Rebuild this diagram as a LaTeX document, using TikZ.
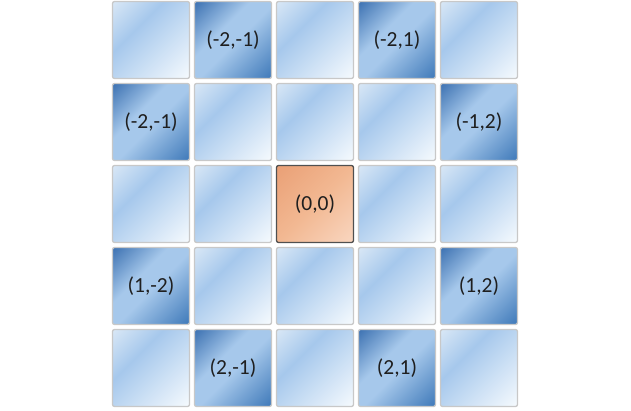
\documentclass[tikz,border=0pt]{standalone}
\usepackage{fontspec}
\setmainfont{Carlito}
\definecolor{lightA}{RGB}{218,232,246}
\definecolor{lightB}{RGB}{166,200,236}
\definecolor{lightC}{RGB}{247,251,254}
\definecolor{darkA}{RGB}{50,105,172}
\definecolor{darkB}{RGB}{166,200,235}
\definecolor{darkC}{RGB}{48,110,178}
\definecolor{orangeA}{RGB}{234,160,118}
\definecolor{orangeB}{RGB}{242,184,146}
\definecolor{orangeC}{RGB}{249,214,192}
\definecolor{tileedge}{RGB}{200,200,200}
\definecolor{originedge}{RGB}{80,80,80}
\pgfdeclarehorizontalshading{lightshade}{100bp}{color(0bp)=(lightA); color(14bp)=(lightA); color(38bp)=(lightB); color(86bp)=(lightC); color(100bp)=(lightC)}
\pgfdeclarehorizontalshading{darkshade}{100bp}{color(0bp)=(darkA); color(12bp)=(darkA); color(40bp)=(darkB); color(52bp)=(darkB); color(90bp)=(darkC); color(100bp)=(darkC)}
\pgfdeclarehorizontalshading{orangeshade}{100bp}{color(0bp)=(orangeA); color(15bp)=(orangeA); color(50bp)=(orangeB); color(85bp)=(orangeC); color(100bp)=(orangeC)}
\newcommand{\tilesize}{77pt}
\newcommand{\tilepitch}{82pt}
\tikzset{
    tile/.style={draw=tileedge, line width=1.3pt, rounded corners=2pt, minimum size=\tilesize, inner sep=0pt,
        shade, shading=lightshade, shading angle=-45, font=\fontsize{21.5}{24}\selectfont, text=black!88},
    darktile/.style={tile, shading=darkshade},
    origintile/.style={tile, draw=originedge, shading=orangeshade}
}
\begin{document}
\begin{tikzpicture}[x=1pt, y=1pt]
    \useasboundingbox (0,0) rectangle (631,410);

    \path (151,370) node[tile] (t00) {}
        to ++(0:\tilepitch) node[darktile] (t01) {(-2,-1)}
        to ++(0:\tilepitch) node[tile] (t02) {}
        to ++(0:\tilepitch) node[darktile] (t03) {(-2,1)}
        to ++(0:\tilepitch) node[tile] (t04) {};

    \path (151,288) node[darktile] (t10) {(-2,-1)}
        to ++(0:\tilepitch) node[tile] (t11) {}
        to ++(0:\tilepitch) node[tile] (t12) {}
        to ++(0:\tilepitch) node[tile] (t13) {}
        to ++(0:\tilepitch) node[darktile] (t14) {(-1,2)};

    \path (151,206) node[tile] (t20) {}
        to ++(0:\tilepitch) node[tile] (t21) {}
        to ++(0:\tilepitch) node[origintile] (t22) {(0,0)}
        to ++(0:\tilepitch) node[tile] (t23) {}
        to ++(0:\tilepitch) node[tile] (t24) {};

    \path (151,124) node[darktile] (t30) {(1,-2)}
        to ++(0:\tilepitch) node[tile] (t31) {}
        to ++(0:\tilepitch) node[tile] (t32) {}
        to ++(0:\tilepitch) node[tile] (t33) {}
        to ++(0:\tilepitch) node[darktile] (t34) {(1,2)};

    \path (151,42) node[tile] (t40) {}
        to ++(0:\tilepitch) node[darktile] (t41) {(2,-1)}
        to ++(0:\tilepitch) node[tile] (t42) {}
        to ++(0:\tilepitch) node[darktile] (t43) {(2,1)}
        to ++(0:\tilepitch) node[tile] (t44) {};
\end{tikzpicture}
\end{document}
